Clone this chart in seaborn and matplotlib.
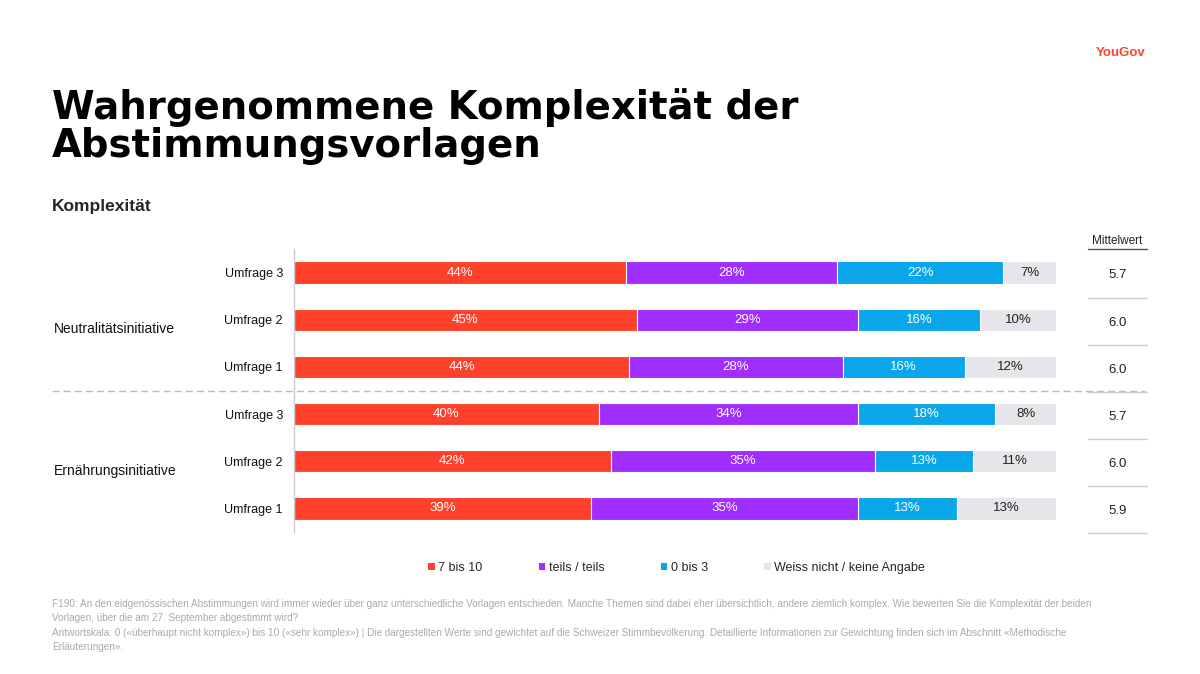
import matplotlib
matplotlib.use("Agg")
import matplotlib.pyplot as plt
from matplotlib.patches import Patch
from matplotlib.lines import Line2D
import matplotlib.transforms as mtransforms
import seaborn as sns
import pandas as pd
import numpy as np

# data
initiativen = ["Neutralitätsinitiative", "Ernährungsinitiative"]
umfragen = ["Umfrage 3", "Umfrage 2", "Umfrage 1", "Umfrage 3", "Umfrage 2", "Umfrage 1"]
hoch = [44, 45, 44, 40, 42, 39]        # 7 bis 10
teils = [28, 29, 28, 34, 35, 35]       # teils / teils
tief = [22, 16, 16, 18, 13, 13]        # 0 bis 3
weiss = [7, 10, 12, 8, 11, 13]         # Weiss nicht / keine Angabe
mittelwert = [5.7, 6.0, 6.0, 5.7, 6.0, 5.9]
kategorien = ["7 bis 10", "teils / teils", "0 bis 3", "Weiss nicht / keine Angabe"]
farben = ["#FF412C", "#A02EFF", "#0AA6EA", "#E6E6EA"]

sns.set_theme(style="white")
plt.rcParams["font.family"] = ["Liberation Sans", "DejaVu Sans"]

werte = np.array([hoch, teils, tief, weiss], dtype=float)
anteile = werte / werte.sum(axis=0) * 100
kumuliert = np.cumsum(anteile, axis=0)

df = pd.DataFrame({"row": [str(i) for i in range(len(umfragen))]})
for k, kat in enumerate(kategorien):
    df[kat] = kumuliert[k]

fig = plt.figure(figsize=(12, 6.74), dpi=100)
W, H = 1200, 674
ax = fig.add_axes([294 / W, 1 - 532 / H, 762 / W, 283 / H])

# stacked bars: draw cumulative totals from the back to the front
for k in range(len(kategorien) - 1, -1, -1):
    sns.barplot(data=df, y="row", x=kategorien[k], color=farben[k], orient="h",
                width=0.47, edgecolor="white", linewidth=0.8, saturation=1, ax=ax)

# segment labels
for i in range(len(umfragen)):
    for k in range(len(kategorien)):
        start = kumuliert[k - 1][i] if k > 0 else 0
        mitte = start + anteile[k][i] / 2
        ax.text(mitte, i, f"{int(werte[k][i])}%", ha="center", va="center",
                fontsize=9.5, color="white" if k < 3 else "#222222")

ax.set_xlim(0, 100)
ax.set_ylim(5.5, -0.5)
ax.set_xlabel("")
ax.set_ylabel("")
ax.set_xticks([])
ax.set_yticks(range(len(umfragen)))
ax.set_yticklabels(umfragen, fontsize=9, color="#111111")
ax.tick_params(axis="y", length=0, pad=8)
for s in ["top", "right", "bottom"]:
    ax.spines[s].set_visible(False)
ax.spines["left"].set_color("#cccccc")
ax.spines["left"].set_linewidth(1)

# group labels and separator
trans = mtransforms.blended_transform_factory(fig.transFigure, ax.transData)
ax.text(54 / W, 1.2, initiativen[0], transform=trans, fontsize=10, va="center", ha="left", color="#111111")
ax.text(54 / W, 4.2, initiativen[1], transform=trans, fontsize=10, va="center", ha="left", color="#111111")
ax.add_line(Line2D([52 / W, 1145 / W], [2.5, 2.5], transform=trans, color="#bbbbbb",
                   linestyle=(0, (5, 3)), linewidth=1, clip_on=False))

# Mittelwert column
ax2 = fig.add_axes([1088 / W, 1 - 532 / H, 59 / W, 283 / H], sharey=ax)
ax2.set_xlim(0, 1)
ax2.axis("off")
for i, m in enumerate(mittelwert):
    ax2.text(0.5, i + 0.06, f"{m:.1f}", ha="center", va="center", fontsize=9.5, color="#222222")
    ax2.plot([0, 1], [i + 0.53, i + 0.53], color="#cccccc", linewidth=1, clip_on=False)
ax2.text(0.5, -0.54, "Mittelwert", ha="center", va="bottom", fontsize=8.5, color="#222222")
ax2.plot([0, 1], [-0.5, -0.5], color="#555555", linewidth=1, clip_on=False)
ax2.set_ylim(5.5, -0.5)

# legend
handles = [Patch(facecolor=c, edgecolor="none") for c in farben]
fig.legend(handles, kategorien, loc="center", bbox_to_anchor=(0.564, 1 - 568 / H), ncol=4,
           frameon=False, fontsize=9, handlelength=0.5, handleheight=0.5, handletextpad=0.3,
           columnspacing=4.5)

# titles
fig.text(52 / W, 1 - 88 / H, "Wahrgenommene Komplexität der\nAbstimmungsvorlagen",
         family="DejaVu Sans", fontweight="heavy", fontsize=27.8, va="top", ha="left",
         linespacing=1.0, color="black")
fig.text(52 / W, 1 - 207 / H, "Komplexität", fontsize=12.5, fontweight="bold", va="center", ha="left")
fig.text(1146 / W, 1 - 53 / H, "YouGov", fontsize=9.5, fontweight="bold", color="#FF412C",
         va="center", ha="right")

fussnote = ("F190: An den eidgenössischen Abstimmungen wird immer wieder über ganz unterschiedliche Vorlagen entschieden. "
            "Manche Themen sind dabei eher übersichtlich, andere ziemlich komplex. Wie bewerten Sie die Komplexität der beiden\n"
            "Vorlagen, über die am 27. September abgestimmt wird?\n"
            "Antwortskala: 0 («überhaupt nicht komplex») bis 10 («sehr komplex») | Die dargestellten Werte sind gewichtet auf die "
            "Schweizer Stimmbevölkerung. Detaillierte Informationen zur Gewichtung finden sich im Abschnitt «Methodische\n"
            "Erläuterungen».")
fig.text(52 / W, 1 - 599 / H, fussnote, fontsize=7.2, color="#aaaaaa", va="top", ha="left", linespacing=1.55)

fig.savefig("out.png", dpi=100)
